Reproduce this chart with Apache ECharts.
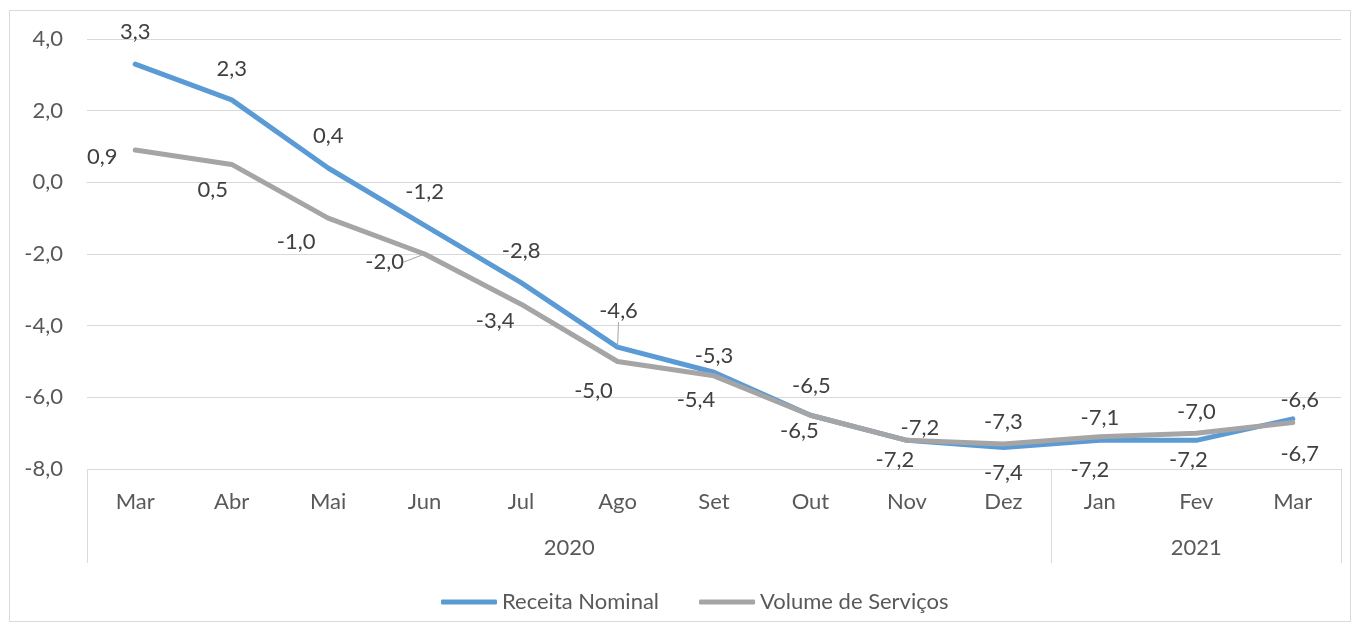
<!DOCTYPE html>
<html>
<head>
<meta charset="utf-8">
<script src="https://cdn.jsdelivr.net/npm/echarts@6/dist/echarts.min.js"></script>
<style>html,body{margin:0;padding:0;background:#fff}#c{width:1360px;height:632px}</style>
</head>
<body>
<div id="c"></div>
<script>
// ---- data ----
const months = ['Mar','Abr','Mai','Jun','Jul','Ago','Set','Out','Nov','Dez','Jan','Fev','Mar'];
const years = ['2020','2021'];
const yearSpans = [10, 3];
const receitaNominal = [3.3, 2.3, 0.4, -1.2, -2.8, -4.6, -5.3, -6.5, -7.2, -7.4, -7.2, -7.2, -6.6];
const volumeServicos = [0.9, 0.5, -1.0, -2.0, -3.4, -5.0, -5.4, -6.5, -7.2, -7.3, -7.1, -7.0, -6.7];
const yTicks = { min: -8, max: 4, interval: 2 };

// ---- label placement (style) ----
const receitaLabelOffsets = [[0,-32],[0,-31],[0,-32],[0,-33],[0,-32],[1,-36],[0,-16],[1,-29],[13,-12],[0,25],[-10,30],[-8,20],[7,-19]];
const volumeLabelOffsets  = [[-33,7],[-19,25],[-32,24],[-40,8],[-26,17],[-24,29],[-18,24],[-11,16],[-12,20],[0,-22],[0,-19],[0,-21],[7,31]];
const receitaLeader = [5];
const volumeLeader = [3];

const fmt = v => Number(v).toFixed(1).replace('.', ',');
const FONT = 'Lato';
const FS = 22;

// year axis positions derived from spans
const bounds = [0];
yearSpans.forEach(s => bounds.push(bounds[bounds.length - 1] + s));
const yearCenters = yearSpans.map((s, i) => bounds[i] + s / 2);

function buildSeriesData(values, leaders) {
  return values.map((v, i) => {
    const item = { value: v };
    if (leaders.indexOf(i) >= 0) item.labelLine = { show: true };
    return item;
  });
}

const chart = echarts.init(document.getElementById('c'), null, { renderer: 'canvas' });
const labelCommon = {
  show: true, position: 'inside', formatter: p => fmt(p.value),
  color: '#404040', fontFamily: FONT, fontSize: FS
};
chart.setOption({
  animation: false,
  backgroundColor: '#fff',
  graphic: [{
    type: 'rect', silent: true, z: -10,
    shape: { x: 9.5, y: 10.5, width: 1341, height: 611 },
    style: { fill: 'none', stroke: '#d9d9d9', lineWidth: 1 }
  }],
  grid: { left: 87, right: 19, top: 39, bottom: 163 },
  legend: {
    bottom: 14, left: 436,
    icon: 'roundRect', itemWidth: 56, itemHeight: 5, itemGap: 40,
    textStyle: { color: '#595959', fontFamily: FONT, fontSize: FS },
    data: ['Receita Nominal', 'Volume de Serviços']
  },
  xAxis: [{
    type: 'category', data: months, boundaryGap: true,
    axisLine: { show: true, lineStyle: { color: '#d9d9d9', width: 1 } },
    axisTick: { show: false },
    axisLabel: { color: '#595959', fontFamily: FONT, fontSize: FS, margin: 22, interval: 0 },
    splitLine: { show: false }
  }, {
    type: 'value', position: 'bottom', min: 0, max: months.length,
    axisLine: { show: false },
    axisTick: { show: true, length: 94, customValues: bounds, lineStyle: { color: '#d9d9d9', width: 1 } },
    axisLabel: {
      show: true, customValues: yearCenters, margin: 68,
      formatter: v => years[yearCenters.indexOf(v)] || '',
      color: '#595959', fontFamily: FONT, fontSize: FS
    },
    splitLine: { show: false }
  }],
  yAxis: {
    type: 'value', min: yTicks.min, max: yTicks.max, interval: yTicks.interval,
    axisLine: { show: false }, axisTick: { show: false },
    axisLabel: { formatter: fmt, color: '#595959', fontFamily: FONT, fontSize: FS, margin: 24 },
    splitLine: { lineStyle: { color: '#d9d9d9', width: 1 } }
  },
  series: [{
    name: 'Receita Nominal', type: 'line', xAxisIndex: 0,
    data: buildSeriesData(receitaNominal, receitaLeader),
    symbol: 'circle', symbolSize: 1, showSymbol: true,
    lineStyle: { color: '#5b9bd5', width: 5, cap: 'round', join: 'round' },
    itemStyle: { color: '#5b9bd5' },
    label: labelCommon,
    labelLine: { show: false, lineStyle: { color: '#a6a6a6', width: 1 } },
    labelLayout: p => ({ dx: receitaLabelOffsets[p.dataIndex][0], dy: receitaLabelOffsets[p.dataIndex][1] }),
    emphasis: { disabled: true }
  }, {
    name: 'Volume de Serviços', type: 'line', xAxisIndex: 0,
    data: buildSeriesData(volumeServicos, volumeLeader),
    symbol: 'circle', symbolSize: 1, showSymbol: true,
    lineStyle: { color: '#a5a5a5', width: 5, cap: 'round', join: 'round' },
    itemStyle: { color: '#a5a5a5' },
    label: labelCommon,
    labelLine: { show: false, lineStyle: { color: '#a6a6a6', width: 1 } },
    labelLayout: p => ({ dx: volumeLabelOffsets[p.dataIndex][0], dy: volumeLabelOffsets[p.dataIndex][1] }),
    emphasis: { disabled: true }
  }]
});
</script>
</body>
</html>
